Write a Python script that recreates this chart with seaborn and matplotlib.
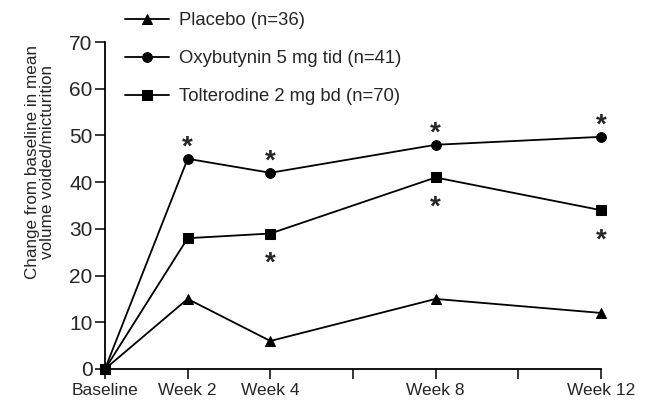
import pandas as pd
import seaborn as sns
import matplotlib.pyplot as plt

# data
weeks = [0, 2, 4, 8, 12]
week_labels = ["Baseline", "Week 2", "Week 4", "Week 8", "Week 12"]
placebo = [0, 15, 6, 15, 12]
oxybutynin = [0, 45, 42, 48, 49.7]
tolterodine = [0, 28, 29, 41, 34]
series_names = ["Placebo (n=36)", "Oxybutynin 5 mg tid (n=41)", "Tolterodine 2 mg bd (n=70)"]
oxy_star_weeks = [2, 4, 8, 12]   # asterisk above
tol_star_weeks = [4, 8, 12]      # asterisk below

sns.set_theme(style="ticks")
plt.rcParams['font.family'] = ['Liberation Sans', 'DejaVu Sans']

fig = plt.figure(figsize=(6.56, 4.04), dpi=100)
ax = fig.add_axes([105/656, 1 - 369/404, (601-105)/656, (369-42)/404])

markers = ["^", "o", "s"]
for name, vals, m in zip(series_names, [placebo, oxybutynin, tolterodine], markers):
    df = pd.DataFrame({"week": weeks, "value": vals})
    sns.lineplot(data=df, x="week", y="value", marker=m, color="black",
                 markersize=7 if m != "^" else 7.5, markeredgecolor="black",
                 linewidth=1.3, label=name, ax=ax, clip_on=False, zorder=3)

# significance asterisks
for w in oxy_star_weeks:
    y = oxybutynin[weeks.index(w)]
    ax.annotate("*", (w, y), xytext=(0, 8), textcoords="offset points",
                ha="center", va="center", fontsize=20, fontweight="bold",
                annotation_clip=False)
for w in tol_star_weeks:
    y = tolterodine[weeks.index(w)]
    ax.annotate("*", (w, y), xytext=(0, -22), textcoords="offset points",
                ha="center", va="center", fontsize=20, fontweight="bold",
                annotation_clip=False)

ax.set_xlim(0, 12)
ax.set_ylim(0, 70)
ax.set_xticks([0, 2, 4, 6, 8, 10, 12])
ax.set_xticklabels(["Baseline", "Week 2", "Week 4", "", "Week 8", "", "Week 12"], fontsize=12.5)
ax.set_yticks(range(0, 71, 10))
ax.tick_params(axis="y", labelsize=15, length=7, width=1.3, direction="out", pad=2)
ax.tick_params(axis="x", length=7, width=1.3, direction="out", pad=3)
ax.set_xlabel("")
ax.set_ylabel("Change from baseline in mean\nvolume voided/micturition", fontsize=12.3,
              linespacing=1.05)
ax.yaxis.set_label_coords(-0.10, 0.633)
sns.despine(ax=ax)
for s in ["left", "bottom"]:
    ax.spines[s].set_linewidth(1.3)
    ax.spines[s].set_color("black")

ax.legend(loc="upper left", bbox_to_anchor=(125/656, 1 - 12/404),
          bbox_transform=fig.transFigure, frameon=False, fontsize=13.3,
          handlelength=2.4, handletextpad=0.55, labelspacing=1.15,
          borderpad=0, borderaxespad=0)

fig.savefig("out.png", dpi=100)
